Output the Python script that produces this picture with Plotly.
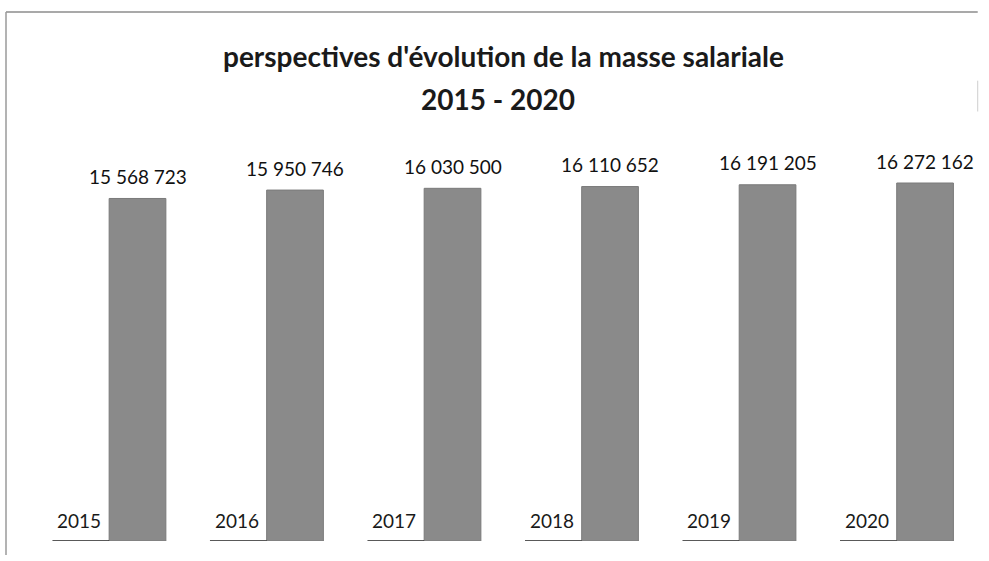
import plotly.graph_objects as go

YEARS = ["2015", "2016", "2017", "2018", "2019", "2020"]
MASSE_SALARIALE = [15568723, 15950746, 16030500, 16110652, 16191205, 16272162]
TITLE_LINE1 = "perspectives d'évolution de la masse salariale"
TITLE_LINE2 = "2015 - 2020"

FONT = "Lato, Liberation Sans, sans-serif"
BAR_WIDTH = 0.36


def fmt_fr(v):
    # espace comme separateur de milliers
    return f"{v:,}".replace(",", " ")


idx = list(range(len(YEARS)))

fig = go.Figure()
fig.add_trace(
    go.Bar(
        x=idx,
        y=MASSE_SALARIALE,
        width=BAR_WIDTH,
        marker=dict(color="#8a8a8a", line=dict(color="#7a7a7a", width=1)),
        hoverinfo="skip",
        showlegend=False,
    )
)

# petits traits a gauche de chaque barre, sous l'annee
ux, uy = [], []
for i in idx:
    ux += [i - BAR_WIDTH / 2 - BAR_WIDTH, i - BAR_WIDTH / 2, None]
    uy += [0, 0, None]
fig.add_trace(
    go.Scatter(
        x=ux, y=uy, mode="lines",
        line=dict(color="#222222", width=1.5),
        hoverinfo="skip", showlegend=False, cliponaxis=False,
    )
)

annotations = []
for i, (yr, v) in enumerate(zip(YEARS, MASSE_SALARIALE)):
    annotations.append(dict(
        x=i, y=v, xref="x", yref="y", text=fmt_fr(v), showarrow=False,
        xanchor="center", yanchor="middle", yshift=22,
        font=dict(family=FONT, size=19, color="#111111"),
    ))
    annotations.append(dict(
        x=i - BAR_WIDTH / 2, y=0, xref="x", yref="y", text=yr, showarrow=False,
        xanchor="right", yanchor="middle", xshift=-6, yshift=21,
        font=dict(family=FONT, size=19, color="#1a1a1a"),
    ))

annotations.append(dict(
    x=0.508, y=1.180, xref="paper", yref="paper", text=f"<b>{TITLE_LINE1}</b>",
    showarrow=False, xanchor="center", yanchor="middle",
    font=dict(family=FONT, size=28, color="#1a1a1a"),
))
annotations.append(dict(
    x=0.502, y=1.076, xref="paper", yref="paper", text=f"<b>{TITLE_LINE2}</b>",
    showarrow=False, xanchor="center", yanchor="middle",
    font=dict(family=FONT, size=28, color="#1a1a1a"),
))

# cadre du graphique
shapes = [
    dict(type="line", xref="paper", yref="paper", x0=-0.0147, x1=1.006, y0=1.287, y1=1.287,
         line=dict(color="#8c8c8c", width=1.5)),
    dict(type="line", xref="paper", yref="paper", x0=-0.0147, x1=-0.0147, y0=1.287, y1=-0.034,
         line=dict(color="#9a9a9a", width=1.5)),
    dict(type="line", xref="paper", yref="paper", x0=1.006, x1=1.006, y0=1.12, y1=1.045,
         line=dict(color="#cfcfcf", width=1)),
]

ymax = max(MASSE_SALARIALE) * 411 / 358

fig.update_layout(
    width=989,
    height=561,
    margin=dict(l=20, r=17, t=130, b=20),
    paper_bgcolor="white",
    plot_bgcolor="white",
    showlegend=False,
    annotations=annotations,
    shapes=shapes,
    xaxis=dict(range=[-0.746, 5.298], visible=False, fixedrange=True),
    yaxis=dict(range=[0, ymax], visible=False, fixedrange=True),
)

fig.write_html(
    "out.html",
    config={"displayModeBar": False},
    post_script="document.body.style.margin='0';document.body.style.overflow='hidden';",
)
